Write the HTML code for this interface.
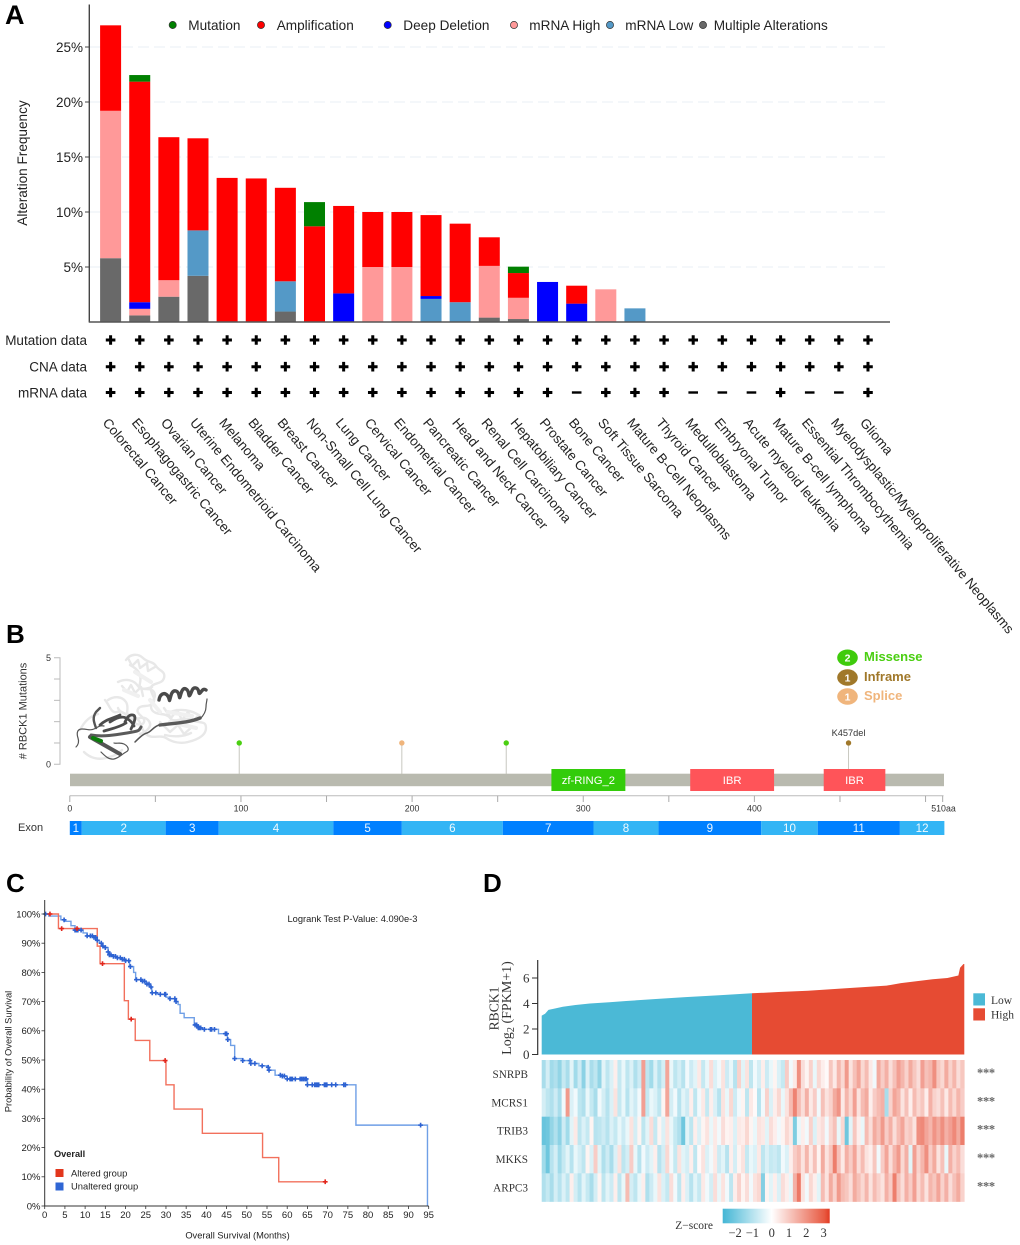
<!DOCTYPE html>
<html lang="en">
<head>
<meta charset="utf-8">
<title>RBCK1 alteration figure</title>
<style>
html,body{margin:0;padding:0;background:#fff}
svg{display:block}
text{font-family:"Liberation Sans",Arial,sans-serif}
.serif{font-family:"Liberation Serif","Times New Roman",serif}
</style>
</head>
<body>
<svg id="fig" xmlns="http://www.w3.org/2000/svg" width="1020" height="1245" viewBox="0 0 1020 1245">
  <rect width="1020" height="1245" fill="#fff"/>
  <text x="5" y="24" font-size="27" font-weight="700" fill="#000">A</text>
  <text x="6" y="643" font-size="26" font-weight="700" fill="#000">B</text>
  <text x="6" y="892" font-size="26" font-weight="700" fill="#000">C</text>
  <text x="483" y="892" font-size="26" font-weight="700" fill="#000">D</text>

  <g id="panelA"></g>
  <g id="panelB">
    <g fill="none" stroke-linecap="round" stroke-linejoin="round">
      <g stroke="#e8e8e8" stroke-width="2.4">
        <path d="M126 660c4-6 12-7 17-2s10 3 13 8 10 5 8 12-12 4-13 10 6 10 2 15-12 1-15 6 8 8 6 13-10 2-13-2-8-10-14-8-8-8-12-12"/>
        <path d="M118 682c8-4 16-2 20 4s12 0 16 6-6 12-2 18 14 2 18 8 14-2 22 2 14 0 14 8-10 12-18 14-16 0-22-4-14 2-20-4-4-12-10-16-16-4-18-10"/>
        <path d="M108 700c6-4 14-4 18 2s-2 12 4 16 12-4 18 2-2 12-8 14"/>
        <path d="M80 730c4-8 10-14 18-16M84 752c6 6 14 8 22 6s12-4 16-8"/>
        <path d="M130 665c8 4 12 10 10 18s6 6 12 4M170 712c10-4 22-2 30 4M165 735c8 2 18 2 26-2"/>
        <path d="M128 658l4 8 6-6 2 8 7-5 1 8 7-4M122 686l5 6 4-7 4 8 6-6 2 9M164 708l7 10 6-8 5 10 6-8 5 9 6-6"/>
        <path d="M160 722l10 10 8-7 6 9 8-7"/>
      </g>
      <g stroke="#f0f0f0" stroke-width="4">
        <path d="M135 672l16 10M124 690l14 6M150 700l10 12M170 722l26 6M168 712l24 4"/>
      </g>
      <path d="M76 747c3-3 3-6 2-9s-2-9 4-9 8 2 12 0 6-4 10-3" stroke="#555" stroke-width="1.2"/>
      <path d="M90 737l30 17" stroke="#555" stroke-width="4"/>
      <path d="M101 752c4 4 8 8 13 7s8-5 12-7 2-6-2-8-8 0-10-1" stroke="#555" stroke-width="1.2"/>
      <path d="M91 735c12 2 24 0 36-2s12-2 14-6" stroke="#5a5a5a" stroke-width="3"/>
      <path d="M100 725c6-6 14-7 20-10M110 722c6-4 12-6 16-4s6 4 8 8M125 722c2-4 4-8 8-7s1 8-2 14M104 731c6-2 14-3 22-8" stroke="#4c4c4c" stroke-width="2.8"/>
      <path d="M96 728c-2-6-4-10 0-16l4-4" stroke="#555" stroke-width="2.4"/>
      <path d="M135 742c4-4 8-8 12-9s6-6 12-8" stroke="#555" stroke-width="1.5"/>
      <path d="M160 725c14-2 28-2 40-7" stroke="#5a5a5a" stroke-width="3.4"/>
      <path d="M200 719c4-4 6-8 6-12s1-6 1-8" stroke="#555" stroke-width="1.2"/>
      <path d="M159 700c1-6 5-8 8-5s2 8 3 4 2-9 6-8 3 9 4 6 2-10 6-8 2 9 4 6 2-8 6-7 2 7 4 5 3-5 6-3" stroke="#4a4a4a" stroke-width="3.4"/>
      <path d="M93 738l8 3" stroke="#0a7d0a" stroke-width="4"/>
    </g>
  </g>
  <g id="panelC"></g>
  <g id="panelD"></g>
</svg>
<script>
/* ---------- Panel A data ---------- */
const cancerTypes = ["Colorectal Cancer","Esophagogastric Cancer","Ovarian Cancer","Uterine Endometrioid Carcinoma","Melanoma","Bladder Cancer","Breast Cancer","Non-Small Cell Lung Cancer","Lung Cancer","Cervical Cancer","Endometrial Cancer","Pancreatic Cancer","Head and Neck Cancer","Renal Cell Carcinoma","Hepatobiliary Cancer","Prostate Cancer","Bone Cancer","Soft Tissue Sarcoma","Mature B-Cell Neoplasms","Thyroid Cancer","Medulloblastoma","Embryonal Tumor","Acute myeloid leukemia","Mature B-cell lymphoma","Essential Thrombocythemia","Myelodysplastic/Myeloproliferative Neoplasms","Glioma"];
const multipleAlterations = [5.8,0.6,2.3,4.2,0,0,0.95,0,0,0,0,0,0,0.4,0.27,0,0,0,0,0,0,0,0,0,0,0,0];
const mrnaLow = [0,0,0,4.13,0,0,2.75,0,0,0,0,2.1,1.8,0,0,0,0,0,1.24,0,0,0,0,0,0,0,0];
const mrnaHigh = [13.4,0.6,1.5,0,0,0,0,0,0,5,5,0,0,4.7,1.93,0,0,2.97,0,0,0,0,0,0,0,0,0];
const deepDeletion = [0,0.6,0,0,0,0,0,0,2.6,0,0,0.26,0,0,0,3.64,1.67,0,0,0,0,0,0,0,0,0,0];
const amplification = [7.77,20.05,13,8.37,13.1,13.05,8.5,8.7,7.95,5,5,7.36,7.14,2.6,2.25,0,1.63,0,0,0,0,0,0,0,0,0,0];
const mutation = [0,0.6,0,0,0,0,0,2.2,0,0,0,0,0,0,0.58,0,0,0,0,0,0,0,0,0,0,0,0];
const frequencyTicks = [5,10,15,20,25];
const mutationProfiled = [1,1,1,1,1,1,1,1,1,1,1,1,1,1,1,1,1,1,1,1,1,1,1,1,1,1,1];
const cnaProfiled = [1,1,1,1,1,1,1,1,1,1,1,1,1,1,1,1,1,1,1,1,1,1,1,1,1,1,1];
const mrnaProfiled = [1,1,1,1,1,1,1,1,1,1,1,1,1,1,1,1,0,1,1,1,0,0,0,1,0,0,1];
const alterationLegend = ["Mutation","Amplification","Deep Deletion","mRNA High","mRNA Low","Multiple Alterations"];

/* ---------- Panel B data ---------- */
const lollipopPositions = [99,194,255,455];
const lollipopCounts = [1,1,1,1];
const lollipopTypes = ["Missense","Splice","Missense","Inframe"];
const lollipopLabels = ["","","","K457del"];
const proteinDomainNames = ["zf-RING_2","IBR","IBR"];
const proteinDomainStarts = [281.4,362.5,440.5];
const proteinDomainEnds = [324.6,411.5,476.5];
const exonEnds = [7,56,87,154,194,253,306,344,404,437,485,511];
const mutationTypeNames = ["Missense","Inframe","Splice"];
const mutationTypeCounts = [2,1,1];
const proteinTicks = [0,50,100,150,200,250,300,350,400,450,500,510];
const proteinTickLabels = [0,100,200,300,400];

/* ---------- Panel C data ---------- */
const alteredMonths = [0,3.4,13,13.7,19.7,20.7,22.4,26,30,32,39,53.9,57.9,69.4];
const alteredSurvival = [100,95,89,83,70.3,64,56.7,49.8,41.5,33.2,24.9,16.6,8.3,8.3];
const alteredCensored = [1.3,4.2,8,14.3,21.4,29.8,69.4];
const unalteredMonths = [0,1,4,5,6.5,7.5,9.5,10.5,12,13,13.5,14.2,15,15.7,16,17,18,19,20,21,22,22.5,24,25,26,26.5,28,30,31,32.5,33,33.5,34.5,37,38,39,43,45.2,46,47,49,51,53,55,55.5,57,58.5,60,65,77,94.7];
const unalteredSurvival = [100,99.3,98,97.5,96,94.5,93.5,92.5,92,91,90,89,88.5,87,86,85.5,85,84.5,84,82,80,77.5,77,76,75,73,72.5,71.5,71,70,69,66,64.5,62,61,60.5,59,57,55,50.5,49.8,48.8,48,47.5,46.5,44.8,44.5,43.5,41.5,27.7,0];
const unalteredCensored = [0.2,4.8,7.5,7.8,8,8.2,9,10.5,11.3,11.8,12.2,12.6,13,14,14.4,15,15.7,16,16.4,17,17.5,18,18.7,19.2,19.7,20,20.8,21.2,22.7,23.8,24.2,24.7,25.3,25.8,26.3,26.6,27.5,28.6,29.7,29.9,31,32.2,32.5,37.2,37.6,38,38.3,38.6,39.5,41,41.3,42,44.7,45,45.3,47,49,50.8,51,52,53.8,55.3,55.5,58.3,58.8,59.3,60,60.7,61,61.3,62,63.2,63.6,64,64.4,64.7,65,66.2,66.8,67.2,67.5,67.8,69.2,69.5,69.8,71,72,74,74.4,93];
const survivalTicks = [0,10,20,30,40,50,60,70,80,90,100];
const monthTicks = [0,5,10,15,20,25,30,35,40,45,50,55,60,65,70,75,80,85,90,95];

/* ---------- Panel D data ---------- */
const sampleRank = [0,.008,.016,.03,.05,.08,.114,.16,.2,.27,.34,.42,.4976,.56,.63,.72,.816,.85,.925,.96,.986,.99,.998,1];
const rbck1Expression = [3.05,3.2,3.5,3.6,3.75,3.88,4,4.1,4.2,4.35,4.5,4.65,4.8,4.9,5,5.2,5.4,5.6,5.9,6,6.2,6.8,7.1,7.1];
const medianRank = 0.4976;
const expressionTicks = [0,2,4,6];
const heatGenes = ["SNRPB","MCRS1","TRIB3","MKKS","ARPC3"];
const heatSNRPB = [-1.2,-.6,-1.3,-1.1,-1.5,-.8,-1.2,-.4,-1.3,-.7,-1.6,-.5,-1.2,-.9,-1.5,-.4,-.9,-.5,.3,-.8,-.3,-.9,-.5,-1.1,-.7,1.7,-.9,-1.3,-.5,-1.1,-.6,1.6,-.3,-.9,-.6,-1,-.2,-.7,-.4,.4,-.8,-.3,.6,-.5,-.2,.5,-.7,-.3,-1,.8,-.4,.5,-.9,-.2,-.6,.3,-.7,-.3,.2,-.5,-.8,.9,-.2,.4,2,.6,.2,.8,-.3,.7,.3,.1,1,.4,1.3,.7,1.8,.5,1.1,1.6,.7,1.2,.4,-.2,1.5,.9,1.4,.6,1.1,1.7,1.3,.8,1.5,1,.6,1.7,1.1,1.3,2,1,.7,1.5,.8,1.3,.6,1];
const heatMCRS1 = [-.6,-.9,-1.1,-.7,-1.2,-.2,1.8,-.5,-.2,-.9,-1.1,-.3,-.8,-1.2,-.2,-.6,-1,-.5,.5,-.8,-.3,-1,-.4,-.7,-.2,1.7,-.8,-.3,-.5,-.9,.2,1.6,-.6,-.2,-1,-.4,-.7,.3,-.9,-.2,.4,-.8,.3,-.5,-1,.5,-.3,.7,-.7,-.2,.2,-.9,.4,.1,-1,-.2,.8,-.5,.3,.7,-.3,.5,1.2,2.2,1.2,.6,1.4,.4,.9,-.2,1.1,.5,.8,1.5,1.9,.4,1.3,.7,1.7,.5,1.2,1.5,.3,.9,1.2,1.4,-1.2,.8,1.6,1.3,.5,1.1,.3,1.2,.7,1,.3,1.4,.8,.6,1.1,.4,1.2,.7,1.3,.9];
const heatTRIB3 = [-2.1,-2,-1.5,-1.1,-1.6,-.7,-1.3,-.4,.4,-.9,-.5,-.8,.2,-1,-.9,-.7,-1,-.5,-.8,-.3,-.7,-.3,.5,-.6,.2,-.9,-.4,.6,-.8,.2,-.5,.5,-.3,-.8,-1.1,-2,-.4,-.9,.3,-.5,.2,.5,-.3,.4,-.2,.6,.2,.3,-.5,.4,.3,.7,.2,-.3,.5,.4,-.4,.6,.3,-.2,.2,.7,.4,-1.8,-.3,.3,-.2,.8,-.5,.4,.6,-.2,.7,1.1,-.3,.7,-2,-.4,1,.3,-.3,1.2,.6,1.5,1.1,1.8,.9,1.4,.6,1.2,1.6,.8,1,.5,2,2.1,1.6,1.3,1.9,1.5,2,1.4,1.7,2.1,1.5,2.3];
const heatMKKS = [-1.3,-2,-1,-.6,-1.3,-.8,-.4,-1,-.3,-.6,-.9,.2,-.5,.9,-.4,-1.1,-.7,-1.2,-.5,.5,-.9,-.6,.9,-.3,-1,-.2,-.7,-.4,.3,-1,-.6,.7,-.2,-.8,.5,-.4,-.6,.3,-.9,.1,.5,-.5,-.2,.4,-.7,-.4,-1,.3,-.6,.2,.5,-.8,-.3,-.5,.4,-.9,-.5,-.8,-.7,-.9,-.2,-.5,.3,.9,1.2,.5,1.3,.4,1.1,.2,1.5,.5,1,2.3,1.1,.4,1.4,.9,1.6,.6,1.2,.5,.3,1,-.2,.9,1.6,.6,1.3,1.8,.7,1.4,-.4,1.7,.8,1.3,2,.9,1.5,.5,1.1,-.3,1.4,.8,1.2,.6];
const heatARPC3 = [-1.1,-.8,-1.2,-.6,-1,-.5,-.9,.3,-.6,-1,-.4,-.8,-1.2,-.6,.2,-.9,-.4,-.7,.3,-.9,-.3,1.2,-.6,-.9,-.3,.3,-1.1,-.7,-.3,.5,-.5,-.8,.6,-.2,-.9,.3,-.5,-1,-.4,-.8,.4,-.2,-.6,.6,-.3,.5,-.2,-.9,.3,.8,.2,.6,-.2,.5,.7,-1.7,.2,-.4,.3,-.5,.6,.3,-.3,1.4,2.4,.5,-.2,.7,.3,-.4,1.2,.5,1.5,.8,1.8,1.2,1,.6,1.5,1.1,.7,1.3,.5,1.2,.8,.5,1.4,.9,2.3,1.1,.6,1.4,.9,1.7,.7,1.2,.5,1.3,1,1.6,.8,1.4,.6,1.1,1.5,.8];
const zScoreTicks = [-2,-1,0,1,2,3];

/* ---------- Helpers ---------- */
const NS = 'http://www.w3.org/2000/svg';
function mk(parent, tag, attrs, txt) {
  const el = document.createElementNS(NS, tag);
  for (const k in attrs) el.setAttribute(k, attrs[k]);
  if (txt !== undefined) el.textContent = txt;
  parent.appendChild(el);
  return el;
}
function slug(s) { return String(s).toLowerCase().replace(/[^a-z0-9]+/g, '-').replace(/^-|-$/g, ''); }

/* ---------- Panel A ---------- */
(function () {
  const g = document.getElementById('panelA');
  const xA = i => 110.6 + 29.13 * i;
  const yA = v => 322 - 11 * v;
  const barW = 21;
  frequencyTicks.forEach(t => {
    const line = mk(g, 'line', {x1: 90, x2: 890, y1: yA(t), y2: yA(t), stroke: '#eaeff4', 'stroke-width': 1, 'stroke-dasharray': '11 5'});
    
    
    const tick = mk(g, 'line', {x1: 85, x2: 89, y1: yA(t), y2: yA(t), stroke: '#444', 'stroke-width': 1});
    
    
    const lab = mk(g, 'text', {x: 83, y: yA(t) + 5, 'text-anchor': 'end', 'font-size': 13.5, fill: '#222'}, t + '%');
    
    
  });
  const stacks = [
    ['multiple-alterations', multipleAlterations, '#696969'],
    ['mrna-low', mrnaLow, '#5499c7'],
    ['mrna-high', mrnaHigh, '#ff9999'],
    ['deep-deletion', deepDeletion, '#0000ff'],
    ['amplification', amplification, '#ff0000'],
    ['mutation', mutation, '#008000']
  ];
  cancerTypes.forEach((name, i) => {
    let acc = 0;
    stacks.forEach(s => {
      const v = s[1][i];
      if (v > 0) {
        const r = mk(g, 'rect', {x: xA(i) - barW / 2, y: yA(acc + v), width: barW, height: 11 * v, fill: s[2]});
        
        
        acc += v;
      }
    });
  });
  const yAxis = mk(g, 'line', {x1: 89.3, x2: 89.3, y1: 4.5, y2: 322.5, stroke: '#444', 'stroke-width': 1.4});
  
  
  const xAxis = mk(g, 'line', {x1: 89, x2: 890, y1: 322, y2: 322, stroke: '#555', 'stroke-width': 1.6});
  
  
  const yTitle = mk(g, 'text', {transform: 'translate(27 163) rotate(-90)', 'text-anchor': 'middle', 'font-size': 13.6, fill: '#222'}, 'Alteration Frequency');
  
  

  const legendCx = [172.7, 261, 387.7, 514, 610, 703];
  const legendTx = [188.3, 276.7, 403.3, 529.3, 625.3, 713.7];
  const legendCol = ['#008000', '#ff0000', '#0000ff', '#ff9999', '#5499c7', '#696969'];
  alterationLegend.forEach((n, i) => {
    const c = mk(g, 'circle', {cx: legendCx[i], cy: 25, r: 3.6, fill: legendCol[i], stroke: '#333', 'stroke-width': .7});
    
    
    const t = mk(g, 'text', {x: legendTx[i], y: 30, 'font-size': 13.6, fill: '#222'}, n);
    
    
  });

  const rows = [['Mutation data', mutationProfiled, 340], ['CNA data', cnaProfiled, 366.7], ['mRNA data', mrnaProfiled, 392.5]];
  rows.forEach(row => {
    const lab = mk(g, 'text', {x: 87, y: row[2] + 5, 'text-anchor': 'end', 'font-size': 13.5, fill: '#222'}, row[0]);
    
    
    row[1].forEach((v, i) => {
      const cx = xA(i), cy = row[2];
      const m = mk(g, 'path', {d: v ? `M${cx - 4.8} ${cy}H${cx + 4.8}M${cx} ${cy - 4.8}V${cy + 4.8}` : `M${cx - 4.8} ${cy}H${cx + 4.8}`, stroke: '#000', 'stroke-width': v ? 3 : 2.4, fill: 'none'});
      
      
    });
  });
  cancerTypes.forEach((name, i) => {
    const t = mk(g, 'text', {transform: `translate(${xA(i) - 8.6} 423) rotate(50)`, 'font-size': 13.5, fill: '#222'}, name);
    
    
  });
})();

/* ---------- Panel B ---------- */
(function () {
  const g = document.getElementById('panelB');
  const xB = aa => 69.8 + 1.7115 * aa;
  const yB = n => 764.3 - 21.32 * n;
  const typeColor = {Missense: '#4bcf12', Inframe: '#a0782a', Splice: '#f0b57c'};

  const axis = mk(g, 'path', {d: `M54 ${yB(5)}H60V${yB(0)}H54`, fill: 'none', stroke: '#bbb', 'stroke-width': 1});
  
  
  [1, 2, 3, 4].forEach(n => {
    const tk = mk(g, 'line', {x1: 54, x2: 60, y1: yB(n), y2: yB(n), stroke: '#bbb', 'stroke-width': 1});
    
    
  });
  [0, 5].forEach(n => {
    const t = mk(g, 'text', {x: 51, y: yB(n) + 3.3, 'text-anchor': 'end', 'font-size': 9, fill: '#333'}, n);
    
    
  });
  const yt = mk(g, 'text', {transform: 'translate(26.5 711) rotate(-90)', 'text-anchor': 'middle', 'font-size': 11, fill: '#333'}, '# RBCK1 Mutations');
  
  

  lollipopPositions.forEach((p, i) => {
    const stem = mk(g, 'line', {x1: xB(p), x2: xB(p), y1: yB(lollipopCounts[i]), y2: p > 400 ? 770 : 774, stroke: '#c8c8c0', 'stroke-width': 1});
    
    
    const dot = mk(g, 'circle', {cx: xB(p), cy: yB(lollipopCounts[i]), r: 2.7, fill: typeColor[lollipopTypes[i]]});
    
    
    if (lollipopLabels[i]) {
      const lb = mk(g, 'text', {x: xB(p), y: yB(lollipopCounts[i]) - 7, 'text-anchor': 'middle', 'font-size': 9.2, fill: '#333'}, lollipopLabels[i]);
      
      
    }
  });

  const bb = mk(g, 'rect', {x: 70, y: 773.7, width: 874, height: 12.5, fill: '#b9baaf'});
  
  
  proteinDomainNames.forEach((n, i) => {
    const x0 = xB(proteinDomainStarts[i]), x1 = xB(proteinDomainEnds[i]);
    const r = mk(g, 'rect', {x: x0, y: 769, width: x1 - x0, height: 22, fill: i === 0 ? '#33cc0a' : '#ff5459'});
    
    
    const t = mk(g, 'text', {x: (x0 + x1) / 2, y: 784, 'text-anchor': 'middle', 'font-size': 11.3, fill: '#fff'}, n);
    
    
  });

  const ax = mk(g, 'line', {x1: 69.8, x2: 943.5, y1: 795.7, y2: 795.7, stroke: '#bbb', 'stroke-width': 1});
  
  
  proteinTicks.forEach(p => {
    const tk = mk(g, 'line', {x1: xB(p), x2: xB(p), y1: 795.7, y2: 802, stroke: '#aaa', 'stroke-width': 1});
    
    
  });
  proteinTickLabels.forEach(p => {
    const t = mk(g, 'text', {x: xB(p), y: 811.7, 'text-anchor': 'middle', 'font-size': 8.8, fill: '#333'}, p);
    
    
  });
  const endLabel = mk(g, 'text', {x: 943.5, y: 811.7, 'text-anchor': 'middle', 'font-size': 8.8, fill: '#333'}, '510aa');
  
  

  const ex = mk(g, 'text', {x: 18, y: 831, 'font-size': 11, fill: '#333'}, 'Exon');
  
  
  let prev = 0;
  exonEnds.forEach((e, i) => {
    const x0 = xB(prev), x1 = xB(e);
    const r = mk(g, 'rect', {x: x0, y: 821, width: x1 - x0, height: 14, fill: i % 2 ? '#33b5f5' : '#0080ff'});
    
    
    const t = mk(g, 'text', {x: (x0 + x1) / 2, y: 832.2, 'text-anchor': 'middle', 'font-size': 11.6, fill: '#fff', opacity: .92}, i + 1);
    
    
    prev = e;
  });

  const legY = [657.7, 677.5, 696.5];
  mutationTypeNames.forEach((n, i) => {
    const e = mk(g, 'ellipse', {cx: 847.5, cy: legY[i], rx: 10.3, ry: 8.2, fill: typeColor[n] === '#4bcf12' ? '#3fcb0c' : typeColor[n]});
    
    
    const c = mk(g, 'text', {x: 847.5, y: legY[i] + 4, 'text-anchor': 'middle', 'font-size': 10.5, 'font-weight': 700, fill: '#fff'}, mutationTypeCounts[i]);
    
    
    const t = mk(g, 'text', {x: 864, y: legY[i] + 3.5, 'font-size': 13, 'font-weight': 700, fill: typeColor[n]}, n);
    
    
  });
})();

/* ---------- Panel C ---------- */
(function () {
  const g = document.getElementById('panelC');
  const xC = m => 44.7 + 4.042 * m;
  const yC = s => 1206 - 2.92 * s;
  function stepPath(ms, ss) {
    let d = `M${xC(ms[0])} ${yC(ss[0])}`;
    for (let i = 1; i < ms.length; i++) d += `H${xC(ms[i])}V${yC(ss[i])}`;
    return d;
  }
  function survivalAt(ms, ss, t) {
    let s = ss[0];
    for (let i = 0; i < ms.length; i++) if (ms[i] <= t) s = ss[i];
    return s;
  }
  function censor(ms, ss, list, col, name) {
    list.forEach(t => {
      const cx = xC(t), cy = yC(survivalAt(ms, ss, t));
      const m = mk(g, 'path', {d: `M${cx - 2.4} ${cy}H${cx + 2.4}M${cx} ${cy - 2.4}V${cy + 2.4}`, stroke: col, 'stroke-width': 1.6, fill: 'none'});
      
      
    });
  }
  const au = mk(g, 'path', {d: stepPath(unalteredMonths, unalteredSurvival), fill: 'none', stroke: '#6f9fe6', 'stroke-width': 1.4});
  
  
  const al = mk(g, 'path', {d: stepPath(alteredMonths, alteredSurvival), fill: 'none', stroke: '#f2705c', 'stroke-width': 1.4});
  
  
  censor(unalteredMonths, unalteredSurvival, unalteredCensored, '#2d62d2', 'unaltered-censor-mark');
  censor(alteredMonths, alteredSurvival, alteredCensored, '#e2261c', 'altered-censor-mark');

  const yA = mk(g, 'line', {x1: 44.7, x2: 44.7, y1: 900, y2: 1206, stroke: '#333', 'stroke-width': 1});
  
  
  const xA = mk(g, 'line', {x1: 44.2, x2: 428.7, y1: 1206, y2: 1206, stroke: '#333', 'stroke-width': 1});
  
  
  survivalTicks.forEach(s => {
    const tk = mk(g, 'line', {x1: 41.5, x2: 44.7, y1: yC(s), y2: yC(s), stroke: '#333', 'stroke-width': .8});
    
    
    const t = mk(g, 'text', {x: 40.5, y: yC(s) + 3.4, 'text-anchor': 'end', 'font-size': 9.5, fill: '#222'}, s + '%');
    
    
  });
  monthTicks.forEach(m => {
    const tk = mk(g, 'line', {x1: xC(m), x2: xC(m), y1: 1206, y2: 1209, stroke: '#333', 'stroke-width': .8});
    
    
    const t = mk(g, 'text', {x: xC(m), y: 1218, 'text-anchor': 'middle', 'font-size': 9.5, fill: '#222'}, m);
    
    
  });
  const xt = mk(g, 'text', {x: 237.5, y: 1238.7, 'text-anchor': 'middle', 'font-size': 9.3, fill: '#222'}, 'Overall Survival (Months)');
  
  
  const yt = mk(g, 'text', {transform: 'translate(11.5 1051.5) rotate(-90)', 'text-anchor': 'middle', 'font-size': 9.3, fill: '#222'}, 'Probability of Overall Survival');
  
  
  const pv = mk(g, 'text', {x: 287.5, y: 922, 'font-size': 9.3, fill: '#222'}, 'Logrank Test P-Value: 4.090e-3');
  
  
  const ov = mk(g, 'text', {x: 54, y: 1157, 'font-size': 9.2, 'font-weight': 700, fill: '#222'}, 'Overall');
  
  
  const la = mk(g, 'rect', {x: 55.5, y: 1169, width: 8, height: 8, fill: '#e2361c'});
  
  
  const ta = mk(g, 'text', {x: 71, y: 1176.3, 'font-size': 9.4, fill: '#222'}, 'Altered group');
  
  
  const lu = mk(g, 'rect', {x: 55.5, y: 1182.5, width: 8, height: 8, fill: '#2f66d4'});
  
  
  const tu = mk(g, 'text', {x: 71, y: 1189.7, 'font-size': 9.4, fill: '#222'}, 'Unaltered group');
  
  
})();

/* ---------- Panel D ---------- */
(function () {
  const g = document.getElementById('panelD');
  const x0 = 541.7, x1 = 964.3;
  const xD = f => x0 + (x1 - x0) * f;
  const yD = v => 1054.5 - 12.75 * v;
  const LOW = '#4bb9d6', HIGH = '#e64b33';
  function poly(ranks, vals) {
    let p = `${xD(ranks[0])},${yD(0)}`;
    ranks.forEach((r, i) => { p += ` ${xD(r)},${yD(vals[i])}`; });
    p += ` ${xD(ranks[ranks.length - 1])},${yD(0)}`;
    return p;
  }
  const cut = sampleRank.indexOf(medianRank);
  const low = mk(g, 'polygon', {points: poly(sampleRank.slice(0, cut + 1), rbck1Expression.slice(0, cut + 1)), fill: LOW});
  
  
  const high = mk(g, 'polygon', {points: poly(sampleRank.slice(cut), rbck1Expression.slice(cut)), fill: HIGH});
  
  

  const ax = mk(g, 'line', {x1: 537.7, x2: 537.7, y1: 960, y2: 1055, stroke: '#333', 'stroke-width': 1.2});
  
  
  expressionTicks.forEach(v => {
    const tk = mk(g, 'line', {x1: 532, x2: 537.7, y1: yD(v), y2: yD(v), stroke: '#333', 'stroke-width': 1});
    
    
    const t = mk(g, 'text', {class: 'serif', x: 529.5, y: yD(v) + 4.3, 'text-anchor': 'end', 'font-size': 13, fill: '#333'}, v);
    
    
  });
  const t1 = mk(g, 'text', {class: 'serif', transform: 'translate(498.3 1008.5) rotate(-90)', 'text-anchor': 'middle', 'font-size': 13.6, fill: '#333'}, 'RBCK1');
  
  
  const t2 = mk(g, 'text', {class: 'serif', transform: 'translate(511 1008) rotate(-90)', 'text-anchor': 'middle', 'font-size': 14, fill: '#333'});
  
  
  mk(t2, 'tspan', {}, 'Log');
  mk(t2, 'tspan', {dy: 3, 'font-size': 10.5}, '2');
  mk(t2, 'tspan', {dy: -3}, ' (FPKM+1)');

  const sw = [['Low', LOW, 993.3, 1004], ['High', HIGH, 1008.3, 1018.5]];
  sw.forEach(s => {
    const r = mk(g, 'rect', {x: 973.3, y: s[2], width: 11.7, height: 12.2, fill: s[1]});
    
    
    const t = mk(g, 'text', {class: 'serif', x: 991, y: s[3], 'font-size': 11.5, fill: '#333'}, s[0]);
    
    
  });

  function heatColor(z) {
    const a = z < 0 ? [75, 185, 214] : [230, 75, 51];
    const f = Math.min(1, Math.abs(z) / (z < 0 ? 2.5 : 3.2));
    return `rgb(${Math.round(255 + (a[0] - 255) * f)},${Math.round(255 + (a[1] - 255) * f)},${Math.round(255 + (a[2] - 255) * f)})`;
  }
  const rowsD = [heatSNRPB, heatMCRS1, heatTRIB3, heatMKKS, heatARPC3];
  const rowH = 28.33, top = 1060;
  rowsD.forEach((vals, r) => {
    const w = (x1 - x0) / vals.length;
    vals.forEach((z, c) => {
      const cell = mk(g, 'rect', {x: x0 + c * w, y: top + r * rowH, width: w + .3, height: rowH + .2, fill: heatColor(z)});
      
      
    });
    const lab = mk(g, 'text', {class: 'serif', x: 528, y: top + r * rowH + 18, 'text-anchor': 'end', 'font-size': 11.2, fill: '#333'}, heatGenes[r]);
    
    
    const st = mk(g, 'text', {class: 'serif', x: 977, y: top + r * rowH + 17, 'font-size': 12.5, 'font-weight': 700, fill: '#666', 'letter-spacing': '-.3'}, '***');
    
    
  });

  const defs = mk(g, 'defs', {});
  const grad = mk(defs, 'linearGradient', {id: 'zgrad', x1: 0, x2: 1, y1: 0, y2: 0});
  mk(grad, 'stop', {offset: 0, 'stop-color': '#43b6d5'});
  mk(grad, 'stop', {offset: .458, 'stop-color': '#ffffff'});
  mk(grad, 'stop', {offset: .95, 'stop-color': '#e85a42'});
  mk(grad, 'stop', {offset: 1, 'stop-color': '#e23a22'});
  const bar = mk(g, 'rect', {x: 722.7, y: 1208.7, width: 107, height: 14.6, fill: 'url(#zgrad)'});
  
  
  const zx = z => 771.7 + 17.3 * z;
  zScoreTicks.forEach(z => {
    const t = mk(g, 'text', {class: 'serif', x: zx(z) - (z < 0 ? 2 : 0), y: 1237, 'text-anchor': 'middle', 'font-size': 12.5, fill: '#333'}, z < 0 ? '\u2212' + (-z) : z);
    
    
  });
  const zt = mk(g, 'text', {class: 'serif', x: 713, y: 1229, 'text-anchor': 'end', 'font-size': 11.5, fill: '#333'}, 'Z\u2212score');
  
  
})();
</script>
</body>
</html>
